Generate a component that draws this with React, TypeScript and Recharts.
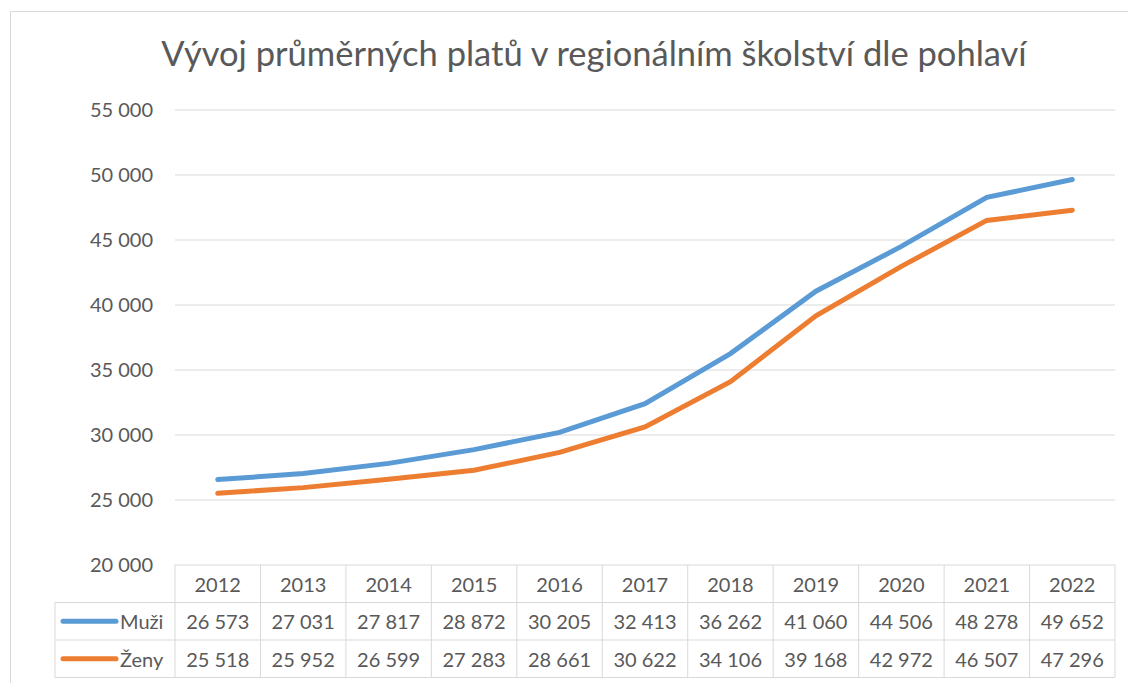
import { CartesianGrid, Line, LineChart, XAxis, YAxis } from "recharts";

const years = ["2012", "2013", "2014", "2015", "2016", "2017", "2018", "2019", "2020", "2021", "2022"];
const muzi = [26573, 27031, 27817, 28872, 30205, 32413, 36262, 41060, 44506, 48278, 49652];
const zeny = [25518, 25952, 26599, 27283, 28661, 30622, 34106, 39168, 42972, 46507, 47296];
const yTicks = [20000, 25000, 30000, 35000, 40000, 45000, 50000, 55000];

const data = years.map((year, i) => ({ year, muzi: muzi[i], zeny: zeny[i] }));

const W = 1128;
const H = 683;
const PLOT_LEFT = 175;
const PLOT_RIGHT = 1115;
const STEP = (PLOT_RIGHT - PLOT_LEFT) / years.length;
const ROW = 37.5;
const LEGEND_LEFT = 55;

const BLUE = "#5B9BD5";
const ORANGE = "#ED7D31";
const TEXT = "#595959";
const GRID = "#d9d9d9";
const FONT = "Lato, 'Open Sans', sans-serif";

function fmt(n: number) {
  return String(n).replace(/\B(?=(\d{3})+(?!\d))/g, " ");
}

function TableTick(props: any) {
  const { x, y, payload } = props;
  const i = payload.index;
  const left = x - STEP / 2;
  const right = x + STEP / 2;
  const rows = [ROW, ROW * 2, ROW * 3];
  return (
    <g>
      <line x1={left} x2={left} y1={y} y2={y + ROW * 3} stroke={GRID} />
      {i === years.length - 1 && (
        <line x1={right} x2={right} y1={y} y2={y + ROW * 3} stroke={GRID} />
      )}
      {rows.map((r) => (
        <line key={r} x1={left} x2={right} y1={y + r} y2={y + r} stroke={GRID} />
      ))}
      <text x={x} y={y + ROW / 2} textAnchor="middle" dominantBaseline="central" fill={TEXT} fontSize={20} fontFamily={FONT}>
        {payload.value}
      </text>
      <text x={x} y={y + ROW * 1.5} textAnchor="middle" dominantBaseline="central" fill={TEXT} fontSize={20} fontFamily={FONT}>
        {fmt(muzi[i])}
      </text>
      <text x={x} y={y + ROW * 2.5} textAnchor="middle" dominantBaseline="central" fill={TEXT} fontSize={20} fontFamily={FONT}>
        {fmt(zeny[i])}
      </text>
      {i === 0 && (
        <g>
          <line x1={LEGEND_LEFT} x2={LEGEND_LEFT} y1={y + ROW} y2={y + ROW * 3} stroke={GRID} />
          {rows.map((r) => (
            <line key={r} x1={LEGEND_LEFT} x2={left} y1={y + r} y2={y + r} stroke={GRID} />
          ))}
          <line x1={63} x2={116} y1={y + ROW * 1.5} y2={y + ROW * 1.5} stroke={BLUE} strokeWidth={5} strokeLinecap="round" />
          <line x1={63} x2={116} y1={y + ROW * 2.5} y2={y + ROW * 2.5} stroke={ORANGE} strokeWidth={5} strokeLinecap="round" />
          <text x={120} y={y + ROW * 1.5} dominantBaseline="central" fill={TEXT} fontSize={20} fontFamily={FONT}>
            Muži
          </text>
          <text x={120} y={y + ROW * 2.5} dominantBaseline="central" fill={TEXT} fontSize={20} fontFamily={FONT}>
            Ženy
          </text>
        </g>
      )}
    </g>
  );
}

export default function App() {
  return (
    <div style={{ position: "absolute", left: 0, top: 0, width: W, height: H, overflow: "hidden", background: "#fff" }}>
      <div
        style={{
          position: "absolute",
          left: 10,
          top: 11,
          width: 1300,
          height: 800,
          border: `1px solid ${GRID}`,
        }}
      />
      <div
        style={{
          position: "absolute",
          left: 0,
          width: 1188,
          top: 32,
          textAlign: "center",
          fontFamily: FONT,
          fontSize: 34.5,
          color: TEXT,
          whiteSpace: "nowrap",
        }}
      >
        Vývoj průměrných platů v regionálním školství dle pohlaví
      </div>
      <div style={{ position: "absolute", left: 0, top: 0 }}>
        <LineChart width={W} height={H} data={data} margin={{ top: 110, right: W - PLOT_RIGHT, left: 75, bottom: 8 }}>
          <CartesianGrid vertical={false} stroke={GRID} />
          <XAxis
            dataKey="year"
            interval={0}
            height={110}
            axisLine={false}
            tickLine={false}
            tickSize={0}
            tickMargin={0}
            padding={{ left: STEP / 2, right: STEP / 2 }}
            tick={<TableTick />}
          />
          <YAxis
            width={100}
            domain={[20000, 55000]}
            ticks={yTicks}
            interval={0}
            axisLine={false}
            tickLine={false}
            tickSize={0}
            tickMargin={22}
            tickFormatter={fmt}
            tick={{ fill: TEXT, fontSize: 20, fontFamily: FONT }}
          />
          <Line type="linear" dataKey="muzi" stroke={BLUE} strokeWidth={5} strokeLinecap="round" dot={false} isAnimationActive={false} />
          <Line type="linear" dataKey="zeny" stroke={ORANGE} strokeWidth={5} strokeLinecap="round" dot={false} isAnimationActive={false} />
        </LineChart>
      </div>
    </div>
  );
}
